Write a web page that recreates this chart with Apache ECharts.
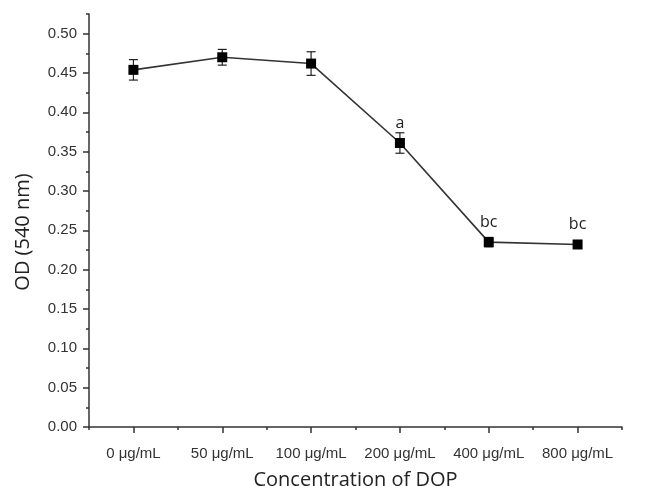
<!DOCTYPE html>
<html>
<head>
<meta charset="utf-8">
<script src="https://cdn.jsdelivr.net/npm/echarts@6/dist/echarts.min.js"></script>
<style>
html,body{margin:0;padding:0;background:#fff;}
#c{width:645px;height:486px;}
</style>
</head>
<body>
<div id="c"></div>
<script>
const categories = ['0 μg/mL', '50 μg/mL', '100 μg/mL', '200 μg/mL', '400 μg/mL', '800 μg/mL'];
const odValues = [0.454, 0.470, 0.462, 0.361, 0.235, 0.232];
const errValues = [0.013, 0.010, 0.015, 0.013, 0.006, 0.005];
const letters = ['', '', '', 'a', 'bc', 'bc'];
const yMajorTicks = [0, 0.05, 0.10, 0.15, 0.20, 0.25, 0.30, 0.35, 0.40, 0.45, 0.50];
const yMinorTicks = [0.025, 0.075, 0.125, 0.175, 0.225, 0.275, 0.325, 0.375, 0.425, 0.475, 0.525];
const xTitle = 'Concentration of DOP';
const yTitle = 'OD (540 nm)';

const xIdx = categories.map((c, i) => i);
const xBounds = categories.map((c, i) => i - 0.5).concat([categories.length - 0.5]);
const lineData = odValues.map((v, i) => [i, v]);
const errData = odValues.map((v, i) => [i, v - errValues[i], v + errValues[i]]);

const axisColor = '#333';
const chart = echarts.init(document.getElementById('c'), null, {renderer: 'canvas'});
chart.setOption({
  animation: false,
  grid: {left: 89, right: 23, top: 14, bottom: 59, containLabel: false, outerBoundsMode: 'none'},
  graphic: [{
    type: 'text', x: 23, y: 232, rotation: Math.PI / 2,
    style: {text: yTitle, fontFamily: 'Open Sans', fontSize: 20, fill: '#222', align: 'center', verticalAlign: 'middle'}
  }],
  xAxis: [{
    type: 'value', min: -0.5, max: categories.length - 0.5,
    position: 'bottom',
    name: xTitle, nameLocation: 'middle', nameGap: 43,
    nameTextStyle: {fontFamily: 'Open Sans', fontSize: 20, color: '#222'},
    axisLine: {show: true, onZero: false, lineStyle: {color: axisColor, width: 1.5}},
    axisTick: {show: true, customValues: xIdx, length: 6, inside: false, lineStyle: {color: axisColor, width: 1.5}},
    axisLabel: {show: true, customValues: xIdx, margin: 19, fontFamily: 'Liberation Sans', fontSize: 15, color: '#333',
      formatter: v => categories[Math.round(v)]},
    splitLine: {show: false}
  }, {
    type: 'value', min: -0.5, max: categories.length - 0.5,
    position: 'bottom',
    axisLine: {show: false, onZero: false},
    axisTick: {show: true, customValues: xBounds, length: 3, lineStyle: {color: axisColor, width: 1.5}},
    axisLabel: {show: false},
    splitLine: {show: false}
  }],
  yAxis: [{
    type: 'value', min: 0, max: 0.525, position: 'left',
    axisLine: {show: true, onZero: false, lineStyle: {color: axisColor, width: 1.5}},
    axisTick: {show: true, customValues: yMajorTicks, length: 6, lineStyle: {color: axisColor, width: 1.5}},
    axisLabel: {show: true, customValues: yMajorTicks, margin: 12, fontFamily: 'Liberation Sans', fontSize: 15, color: '#333',
      formatter: v => v.toFixed(2)},
    splitLine: {show: false}
  }, {
    type: 'value', min: 0, max: 0.525, position: 'left',
    axisLine: {show: false, onZero: false},
    axisTick: {show: true, customValues: yMinorTicks, length: 3, lineStyle: {color: axisColor, width: 1.5}},
    axisLabel: {show: false},
    splitLine: {show: false}
  }],
  series: [{
    type: 'custom',
    xAxisIndex: 0, yAxisIndex: 0,
    data: errData,
    z: 3,
    renderItem: function (params, api) {
      const x = api.value(0);
      const lo = api.coord([x, api.value(1)]);
      const hi = api.coord([x, api.value(2)]);
      const hw = 4.5;
      const style = {stroke: '#222', lineWidth: 1.2, fill: null};
      return {type: 'group', children: [
        {type: 'line', shape: {x1: lo[0], y1: lo[1], x2: hi[0], y2: hi[1]}, style: style},
        {type: 'line', shape: {x1: lo[0] - hw, y1: lo[1], x2: lo[0] + hw, y2: lo[1]}, style: style},
        {type: 'line', shape: {x1: hi[0] - hw, y1: hi[1], x2: hi[0] + hw, y2: hi[1]}, style: style}
      ]};
    }
  }, {
    type: 'line',
    xAxisIndex: 0, yAxisIndex: 0,
    data: lineData,
    z: 4,
    symbol: 'rect', symbolSize: 10,
    itemStyle: {color: '#000'},
    lineStyle: {color: '#333', width: 1.6},
    label: {show: true, position: 'top', distance: 7, fontFamily: 'Open Sans', fontSize: 16, color: '#222',
      formatter: p => letters[p.dataIndex]}
  }]
});
</script>
</body>
</html>
